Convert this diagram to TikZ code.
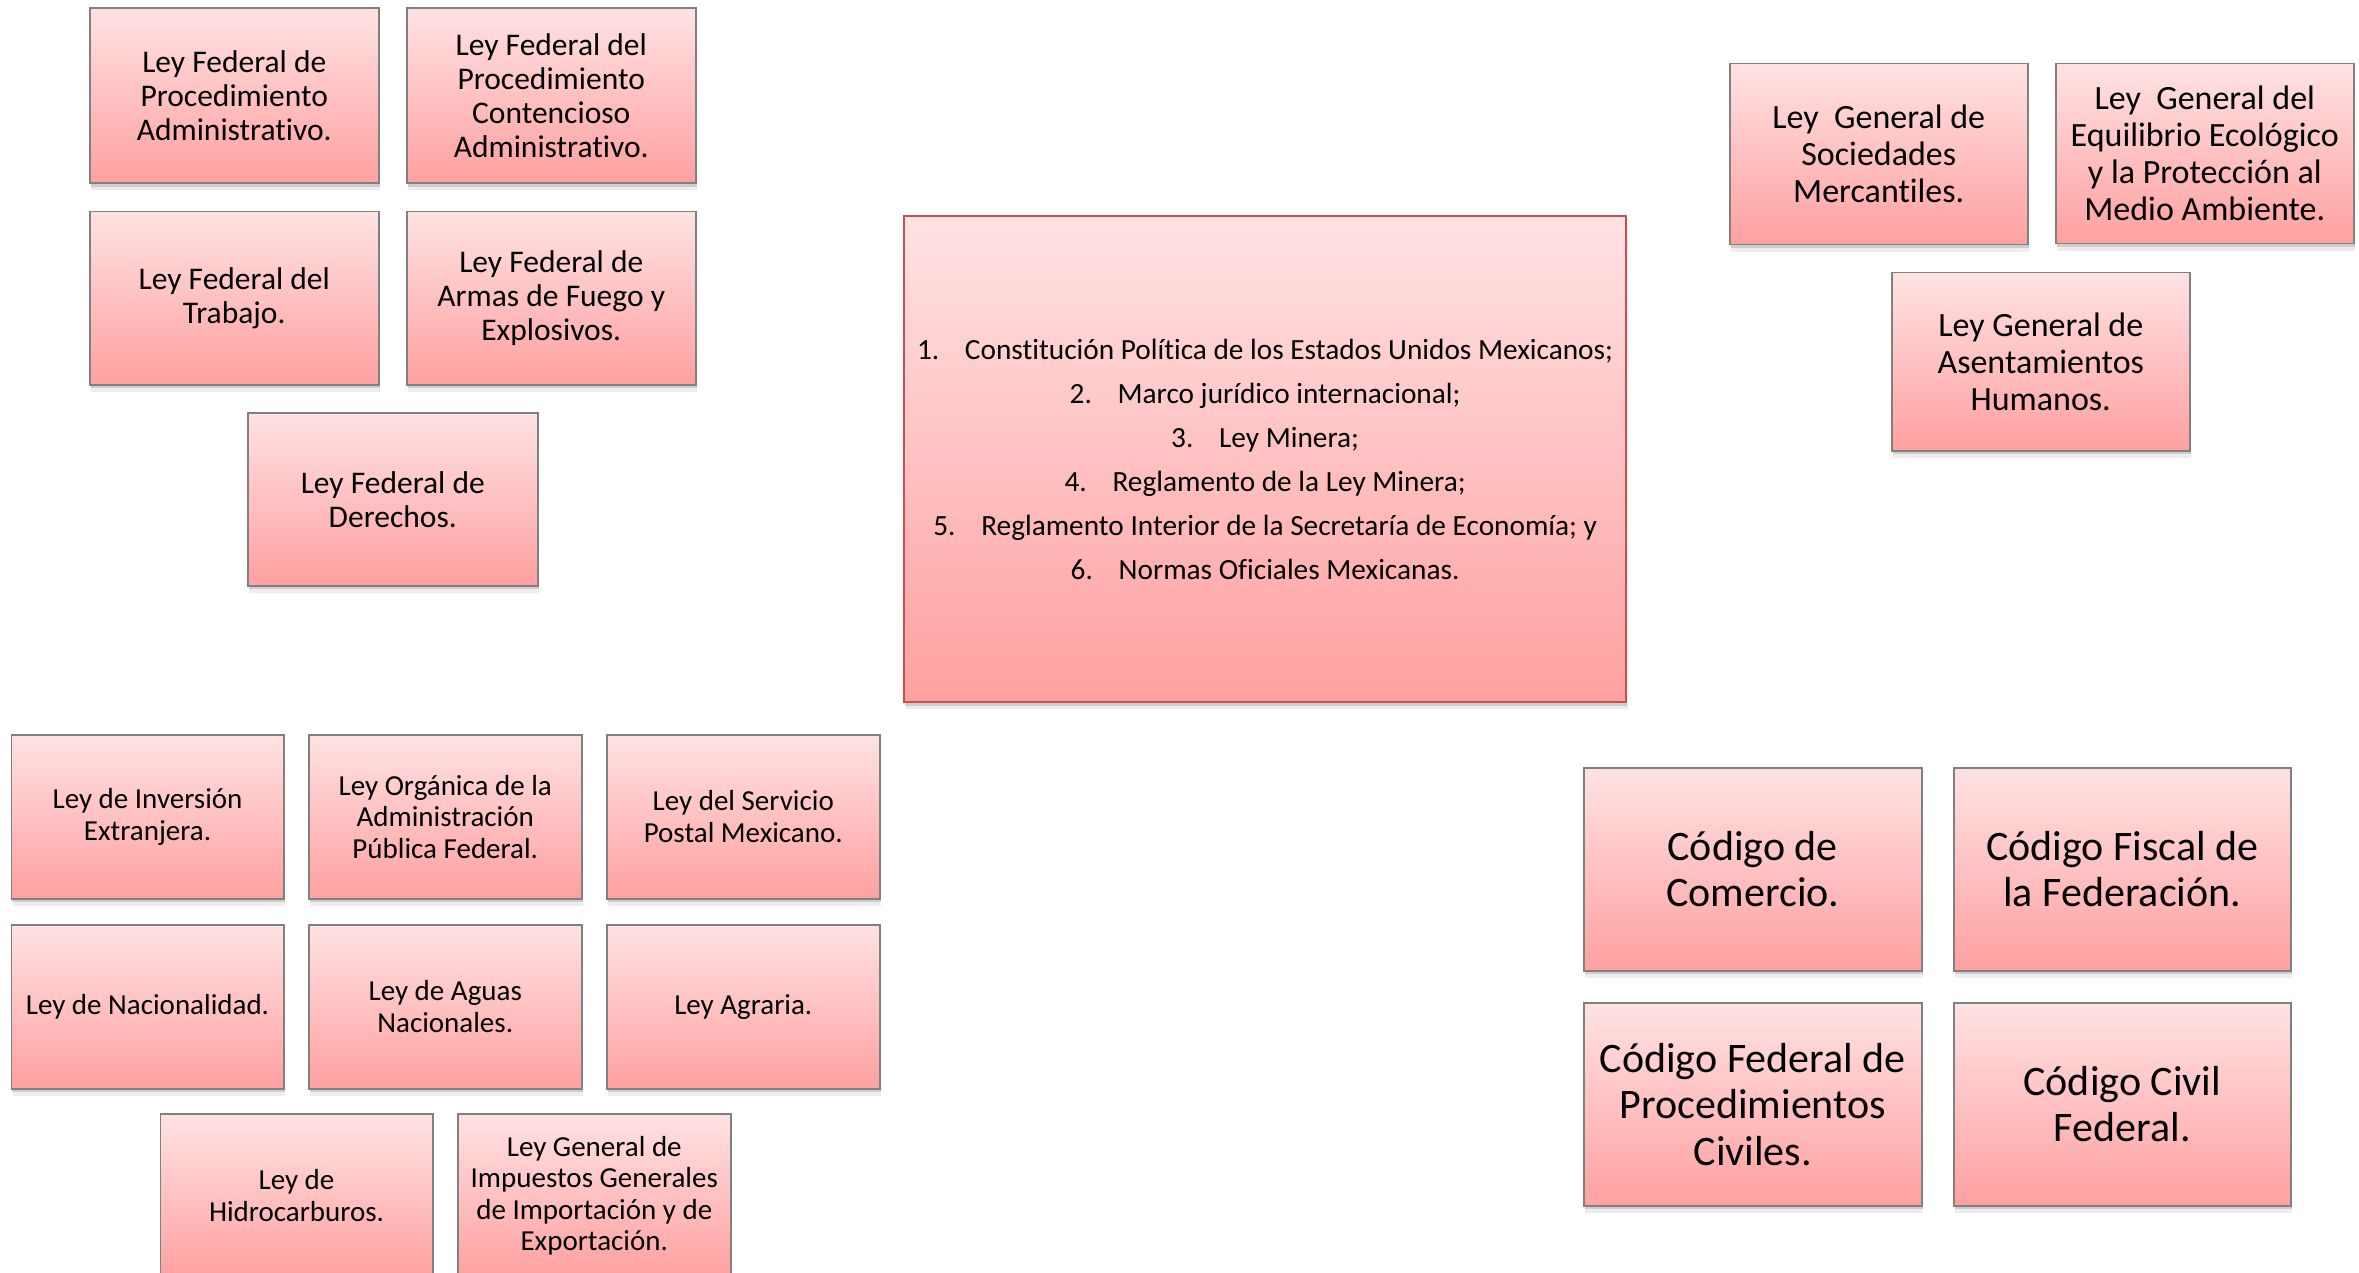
\documentclass[tikz,border=0pt]{standalone}
\usepackage{fontspec}
\setmainfont{Carlito}[Ligatures={NoCommon,NoRare,NoContextual}]
\usetikzlibrary{shadows}
\definecolor{pinktop}{RGB}{255,226,227}
\definecolor{pinkbot}{RGB}{255,160,160}
\definecolor{boxgrey}{RGB}{128,128,128}
\definecolor{boxred}{RGB}{204,78,78}
\tikzset{
  lawbox/.style={draw=boxgrey, line width=1.5pt, top color=pinktop, bottom color=pinkbot,
    anchor=north west, inner sep=0pt, align=center, text=black,
    general shadow={fill=black, opacity=0.13, shadow yshift=-3.5pt, shadow xshift=1pt},
    general shadow={fill=black, opacity=0.07, shadow yshift=-7pt, shadow xshift=1.5pt}},
  fa/.style={lawbox, font=\fontsize{31.5}{34}\selectfont},
  fb/.style={lawbox, font=\fontsize{34}{37}\selectfont},
  fc/.style={lawbox, font=\fontsize{29}{31.6}\selectfont},
  fd/.style={lawbox, font=\fontsize{42}{46.5}\selectfont},
  mainbox/.style={lawbox, draw=boxred, line width=2.2pt, font=\fontsize{29.3}{44}\selectfont},
}
\newcommand{\itm}[1]{\makebox[48pt][l]{#1}}
\begin{document}
\begin{tikzpicture}[x=1pt,y=1pt]
\useasboundingbox (0,0) rectangle (2359,-1273);
% top-left group
\node[fa, minimum width=289pt, minimum height=175pt] (a1) at (89,-7.5) {Ley Federal de\\Procedimiento\\Administrativo.};
\node[fa, minimum width=289pt, minimum height=175pt] (a2) at (406,-7.5) {Ley Federal del\\Procedimiento\\Contencioso\\Administrativo.};
\node[fa, minimum width=289pt, minimum height=173pt] (a3) at (89,-211) {Ley Federal del\\Trabajo.};
\node[fa, minimum width=289pt, minimum height=173pt] (a4) at (406,-211) {Ley Federal de\\Armas de Fuego y\\Explosivos.};
\node[fa, minimum width=290pt, minimum height=173pt] (a5) at (247,-412) {Ley Federal de\\Derechos.};
% centre
\node[mainbox, minimum width=722pt, minimum height=486pt] (m) at (903,-215) {%
\itm{1.}Constitución Política de los Estados Unidos Mexicanos;\\
\itm{2.}Marco jurídico internacional;\\
\itm{3.}Ley Minera;\\
\itm{4.}Reglamento de la Ley Minera;\\
\itm{5.}Reglamento Interior de la Secretaría de Economía; y\\
\itm{6.}Normas Oficiales Mexicanas.};
% top-right group
\node[fb, minimum width=298pt, minimum height=181pt] (b1) at (1729,-63) {Ley\ \ General de\\Sociedades\\Mercantiles.};
\node[fb, minimum width=298pt, minimum height=180pt] (b2) at (2055,-63) {Ley\ \ General del\\Equilibrio Ecológico\\y la Protección al\\Medio Ambiente.};
\node[fb, minimum width=298pt, minimum height=178pt] (b3) at (1891,-272) {Ley General de\\Asentamientos\\Humanos.};
% bottom-left group
\node[fc, minimum width=272.5pt, minimum height=164pt] (c1) at (10.5,-734) {Ley de Inversión\\Extranjera.};
\node[fc, minimum width=273pt, minimum height=164pt] (c2) at (308,-734) {Ley Orgánica de la\\Administración\\Pública Federal.};
\node[fc, minimum width=273pt, minimum height=164pt] (c3) at (606,-734) {Ley del Servicio\\Postal Mexicano.};
\node[fc, minimum width=272.5pt, minimum height=164pt] (c4) at (10.5,-924) {Ley de Nacionalidad.};
\node[fc, minimum width=273pt, minimum height=164pt] (c5) at (308,-924) {Ley de Aguas\\Nacionales.};
\node[fc, minimum width=273pt, minimum height=164pt] (c6) at (606,-924) {Ley Agraria.};
\node[fc, minimum width=272.5pt, minimum height=164pt] (c7) at (159.5,-1113) {Ley de\\Hidrocarburos.};
\node[fc, minimum width=273pt, minimum height=164pt] (c8) at (457,-1113) {Ley General de\\Impuestos Generales\\de Importación y de\\Exportación.};
% bottom-right group
\node[fd, minimum width=338pt, minimum height=203pt] (d1) at (1583,-767) {Código de\\Comercio.};
\node[fd, minimum width=337pt, minimum height=203pt] (d2) at (1953,-767) {Código Fiscal de\\la Federación.};
\node[fd, minimum width=338pt, minimum height=203pt] (d3) at (1583,-1002) {Código Federal de\\Procedimientos\\Civiles.};
\node[fd, minimum width=337pt, minimum height=203pt] (d4) at (1953,-1002) {Código Civil\\Federal.};
\end{tikzpicture}
\end{document}
